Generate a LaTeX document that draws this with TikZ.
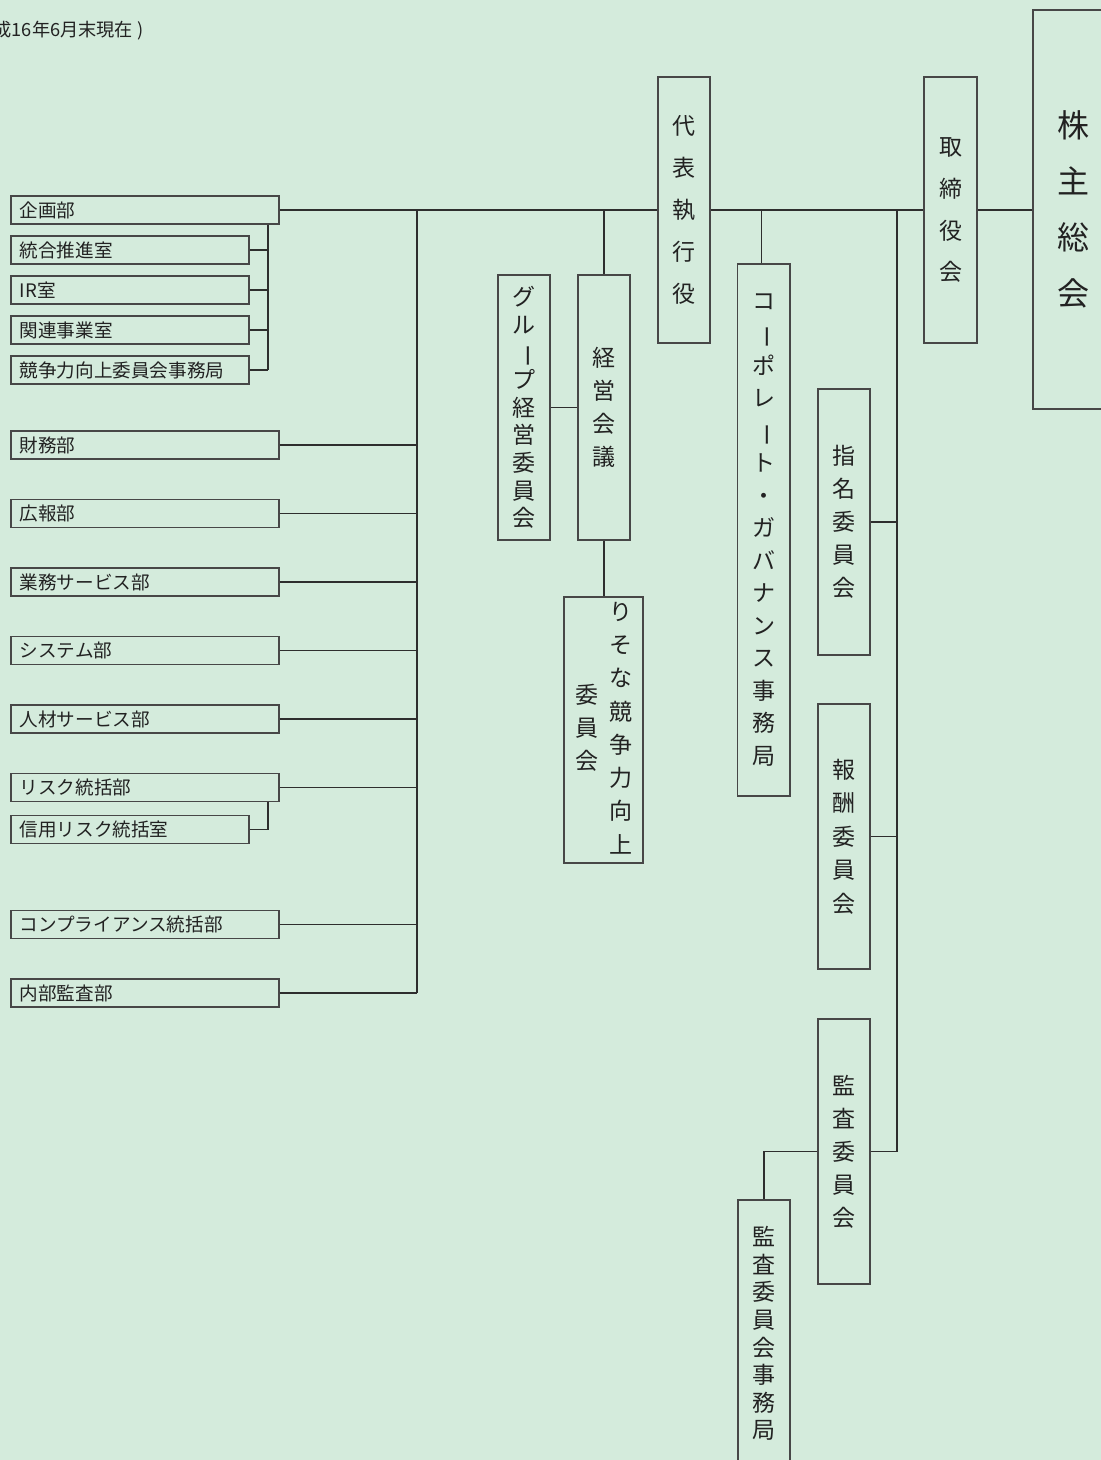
\documentclass[tikz,border=0pt]{standalone}
\usepackage{fontspec}
\setmainfont{Noto Sans CJK JP}
\usepackage{graphicx}
\definecolor{bg}{HTML}{D4EBDC}
\definecolor{linec}{HTML}{2E2E2E}
\definecolor{boxc}{HTML}{474747}
\definecolor{txt}{HTML}{222222}
\newcommand\vtx[1]{\begin{tabular}{@{}c@{}}#1\end{tabular}}
\newcommand\vbarc{\rotatebox[origin=c]{-90}{ー}}
\tikzset{
  bx/.style={draw=boxc, line width=1.5pt, fill=bg, inner sep=0pt, text=txt},
  hbox/.style={bx, anchor=west, minimum height=28pt, inner xsep=9pt, align=left,
    font=\fontsize{18.6}{22}\selectfont},
  wide/.style={hbox, text width=250pt},
  narrow/.style={hbox, text width=220pt},
  vb/.style={bx, minimum width=52pt, align=center},
  vfortytwo/.style={vb, font=\fontsize{23}{42}\selectfont},
  vthirtythree/.style={vb, font=\fontsize{23}{33}\selectfont},
  vtight/.style={vb, font=\fontsize{23}{27.6}\selectfont},
  ln/.style={draw=linec, line width=1.4pt}
}
\begin{document}
\begin{tikzpicture}[x=1pt,y=-1pt]
\fill[bg] (0,0) rectangle (1101,1460);
\useasboundingbox (0,0) rectangle (1101,1460);

% title
\node[anchor=base west, inner sep=0pt, text=txt, font=\fontsize{18.2}{20}\selectfont] (title) at (-43,36.5) {（平成16年6月末現在 )};

% left column boxes
\node[wide] (kikaku) at (10,210) {企画部};
\node[narrow] (togo) at (10,250) {統合推進室};
\node[narrow] (ir) at (10,290) {IR室};
\node[narrow] (kanren) at (10,330) {関連事業室};
\node[narrow] (kyoso) at (10,370) {競争力向上委員会事務局};
\node[wide] (zaimu) at (10,445) {財務部};
\node[wide] (koho) at (10,513.5) {広報部};
\node[wide] (gyomu) at (10,582) {業務サービス部};
\node[wide] (system) at (10,650.5) {システム部};
\node[wide] (jinzai) at (10,719) {人材サービス部};
\node[wide] (risk) at (10,787.5) {リスク統括部};
\node[narrow] (shinyo) at (10,829.5) {信用リスク統括室};
\node[wide] (comp) at (10,924.5) {コンプライアンス統括部};
\node[wide] (naibu) at (10,993) {内部監査部};

% vertical boxes
\node[vfortytwo, minimum height=266pt] (daihyo) at (684,210) {代\\表\\執\\行\\役};
\node[vfortytwo, minimum width=53pt, minimum height=266pt] (torishimari) at (950.5,210) {取\\締\\役\\会};
\node[vb, minimum width=80pt, minimum height=399pt, font=\fontsize{32}{56}\selectfont] (kabunushi) at (1073,209.5) {株\\主\\総\\会};
\node[vthirtythree, minimum height=265pt] (keiei) at (604,407.5) {経\\営\\会\\議};
\node[vtight, minimum height=265pt] (group) at (524,407.5) {グ\\ル\\\vbarc\\プ\\経\\営\\委\\員\\会};
\node[bx, minimum width=79pt, minimum height=266pt, font=\fontsize{23}{33.3}\selectfont] (risona) at (603.5,730)
  {\vtx{委\\員\\会}\hspace{11pt}\vtx{り\\そ\\な\\競\\争\\力\\向\\上}};
\node[vb, minimum width=52.5pt, minimum height=532pt, font=\fontsize{23}{32.5}\selectfont] (cgov) at (763.75,530)
  {コ\\\vbarc\\ポ\\レ\\\vbarc\\ト\\・\\ガ\\バ\\ナ\\ン\\ス\\事\\務\\局};
\node[vthirtythree, minimum height=266pt] (shimei) at (844,522) {指\\名\\委\\員\\会};
\node[vb, minimum height=265pt, font=\fontsize{23}{33.5}\selectfont] (hoshu) at (844,836.5) {報\\酬\\委\\員\\会};
\node[vthirtythree, minimum height=265pt] (kansa) at (844,1151.5) {監\\査\\委\\員\\会};
\node[vtight, minimum height=267pt] (kansajim) at (764,1333.5) {監\\査\\委\\員\\会\\事\\務\\局};

% helper coordinates
\coordinate (br) at (268,0);
\coordinate (ltrunk) at (417,210);
\coordinate (rtrunk) at (897,210);

% main horizontal line
\draw[ln] (kikaku.east) -- (daihyo.west);
\draw[ln] (daihyo.east) -- (torishimari.west);
\draw[ln] (torishimari.east) -- (torishimari.east -| kabunushi.west);

% left trunk
\draw[ln] (ltrunk) -- (ltrunk |- naibu.east);
\foreach \n in {zaimu,koho,gyomu,system,jinzai,risk,comp,naibu}
  \draw[ln] (\n.east) -- (\n.east -| ltrunk);

% upper bracket
\draw[ln] (kikaku.south -| br) -- (kyoso.east -| br);
\foreach \n in {togo,ir,kanren,kyoso}
  \draw[ln] (\n.east) -- (\n.east -| br);

% risk bracket
\draw[ln] (risk.south -| br) -- (shinyo.east -| br);
\draw[ln] (shinyo.east) -- (shinyo.east -| br);

% management council
\draw[ln] (keiei.north) -- (keiei.north |- kikaku.east);
\draw[ln] (keiei.south) -- (keiei.south |- risona.north);
\draw[ln] (group.east) -- (keiei.west);

% corporate governance office
\draw[ln] ([xshift=-2.5pt]cgov.north) -- ([xshift=-2.5pt]cgov.north |- daihyo.east);

% right trunk
\draw[ln] (rtrunk) -- (rtrunk |- kansa.east);
\foreach \n in {shimei,hoshu,kansa}
  \draw[ln] (\n.east) -- (\n.east -| rtrunk);

% audit committee office
\draw[ln] (kansa.west) -| (kansajim.north);
\end{tikzpicture}
\end{document}
